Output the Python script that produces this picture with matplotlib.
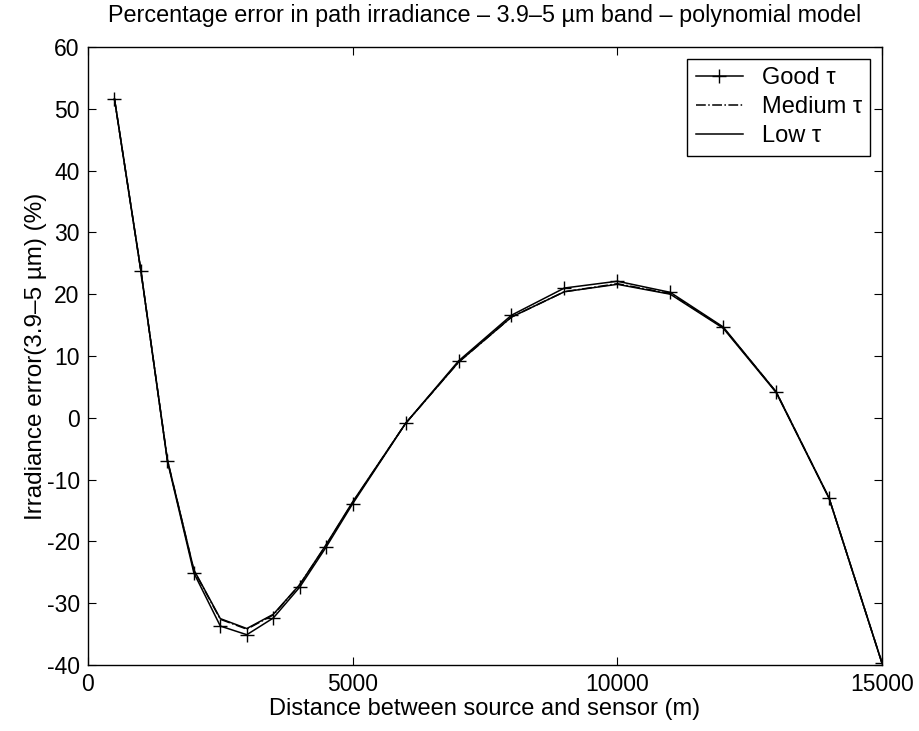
import numpy as np
import matplotlib
matplotlib.use("Agg")
import matplotlib.pyplot as plt

plt.rcParams['font.family'] = ['Liberation Sans', 'DejaVu Sans']
plt.rcParams['axes.unicode_minus'] = False

# distances (m)
dist = [500, 1000, 1500, 2000, 2500, 3000, 3500, 4000, 4500, 5000,
        6000, 7000, 8000, 9000, 10000, 11000, 12000, 13000, 14000, 15000]

# percentage error for each transmittance case
good_tau = [51.6, 23.8, -7.0, -25.1, -33.7, -35.1, -32.4, -27.4, -20.9, -13.9,
            -0.9, 9.2, 16.6, 21.0, 22.1, 20.3, 14.7, 4.2, -13.0, -39.7]
medium_tau = [51.6, 23.7, -6.8, -24.7, -32.6, -34.2, -31.9, -27.0, -20.6, -13.7,
              -0.9, 9.0, 16.3, 20.4, 21.7, 20.1, 14.6, 4.2, -13.0, -39.7]
low_tau = [51.6, 23.7, -6.8, -24.6, -32.5, -34.1, -31.8, -27.0, -20.5, -13.6,
           -0.9, 9.0, 16.3, 20.4, 21.6, 20.0, 14.5, 4.1, -13.0, -39.7]

fig = plt.figure(figsize=(9.19, 7.31), dpi=100)
ax = fig.add_axes([88/919, 1 - 665/731, (882 - 88)/919, (665 - 47)/731])

ax.plot(dist, good_tau, color='black', lw=1.1, marker='+', ms=10, mew=1.0, label='Good τ')
ax.plot(dist, medium_tau, color='black', lw=1.1, ls='-.', label='Medium τ')
ax.plot(dist, low_tau, color='black', lw=1.1, label='Low τ')

ax.set_xlim(0, 15000)
ax.set_ylim(-40, 60)
ax.set_xticks([0, 5000, 10000, 15000])
ax.set_yticks(np.arange(-40, 61, 10))
ax.tick_params(direction='in', top=True, right=True, length=6, labelsize=16.5, pad=6)
for s in ax.spines.values():
    s.set_linewidth(1.0)

ax.set_xlabel('Distance between source and sensor (m)', fontsize=17, labelpad=1)
ax.set_ylabel('Irradiance error(3.9–5 µm) (%)', fontsize=17.5, labelpad=0)
ax.set_title('Percentage error in path irradiance – 3.9–5 µm band – polynomial model',
             fontsize=16.8, pad=18)

leg = ax.legend(loc='upper right', fontsize=17, fancybox=False, edgecolor='black',
                handlelength=2.0, borderaxespad=0.5, framealpha=1,
                labelspacing=0.3, borderpad=0.35)
leg.get_frame().set_linewidth(1.0)

fig.savefig('out.png', dpi=100)
